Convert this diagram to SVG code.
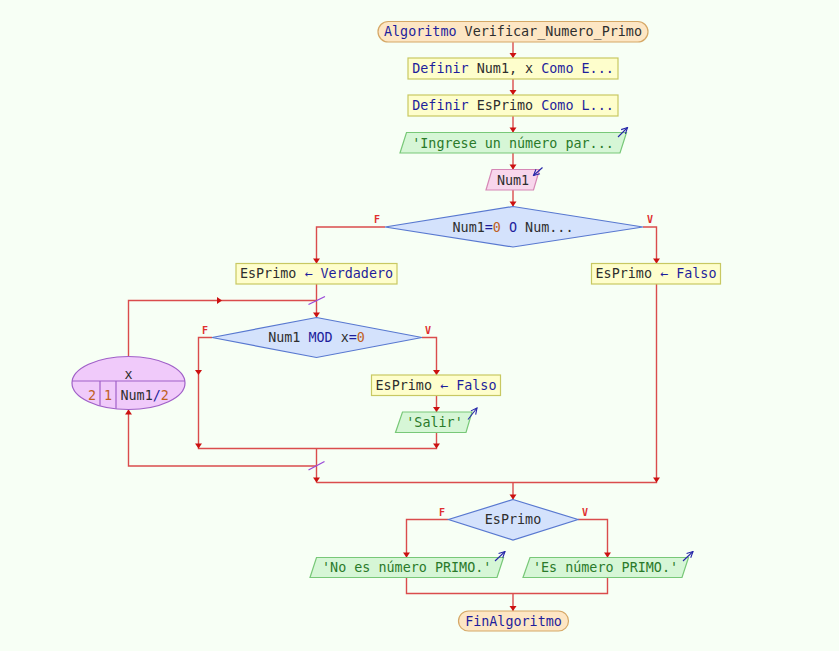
<svg xmlns="http://www.w3.org/2000/svg" xmlns:xlink="http://www.w3.org/1999/xlink" width="839" height="651" viewBox="0 0 839 651">
  <defs>
    <style>
      text { font-family: "DejaVu Sans Mono", "Liberation Mono", monospace; font-size: 13.4px; fill: #2e2e2e; }
      .kw { fill: #1e1e9c; }
      .num { fill: #c0601e; }
      .str { fill: #2a7a2a; }
      .lbl { font-family: "DejaVu Sans Mono", monospace; font-size: 10px; font-weight: bold; fill: #e03030; }
      .term { fill: #fde6c4; stroke: #d6a866; stroke-width: 1.2; }
      .proc { fill: #fefecc; stroke: #c8c862; stroke-width: 1.2; }
      .out { fill: #d6f6d6; stroke: #78c878; stroke-width: 1.2; }
      .inp { fill: #f8d6ec; stroke: #d688b6; stroke-width: 1.2; }
      .dec { fill: #d4e2fc; stroke: #5878d0; stroke-width: 1.2; }
      .loop { fill: #f0cafa; stroke: #a060c8; stroke-width: 1.2; }
      .loopdiv { fill: none; stroke: #a060c8; stroke-width: 1.2; }
      .wire { fill: none; stroke: #da4c4c; stroke-width: 1.4; }
      .io { fill: none; stroke: #2626a8; stroke-width: 1.1; }
      .tick { stroke: #9a4ad8; stroke-width: 1.3; }
      .ah { fill: #cc1111; }
    </style>
    <path id="ah" class="ah" d="M-3.5,-5 L3.5,-5 L0,0 Z"/>
    <marker id="ioh" viewBox="0 0 8 8" refX="7" refY="4" markerWidth="8" markerHeight="8" markerUnits="userSpaceOnUse" orient="auto">
      <path d="M1,1 L7,4 L1,7" fill="none" stroke="#2626a8" stroke-width="1.1"/>
    </marker>
  </defs>

  <rect width="839" height="651" fill="#f7fff5"/>

  <!-- connectors -->
  <g id="connectors">
    <path class="wire" d="M513,42 V58"/>
    <path class="wire" d="M513,79 V95"/>
    <path class="wire" d="M513,116 V132.5"/>
    <path class="wire" d="M513,153 V169.5"/>
    <path class="wire" d="M513,190 V206.5"/>
    <path class="wire" d="M385,227 H316.5 V263.5"/>
    <path class="wire" d="M643,227 H656.5 V263.5"/>
    <path class="wire" d="M316.5,284 V317.5"/>
    <path class="wire" d="M128.5,357 V300.5 H316.5"/>
    <path class="wire" d="M212,337.5 H198.5 V448.5 H436.5 V432"/>
    <path class="wire" d="M422,337.5 H436.5 V375"/>
    <path class="wire" d="M436.5,395 V412"/>
    <path class="wire" d="M316.5,448.5 V482.5"/>
    <path class="wire" d="M316.5,466 H128.5 V409.5"/>
    <path class="wire" d="M656.5,284 V482.5 H316.5"/>
    <path class="wire" d="M513,482.5 V499.5"/>
    <path class="wire" d="M448.5,519.5 H406.5 V557.5"/>
    <path class="wire" d="M578,519.5 H607.5 V557.5"/>
    <path class="wire" d="M406.5,577.5 V593.5 H607.5 V577.5"/>
    <path class="wire" d="M513,593.5 V611"/>

    <!-- arrowheads -->
    <use xlink:href="#ah" transform="translate(513,58)"/>
    <use xlink:href="#ah" transform="translate(513,95)"/>
    <use xlink:href="#ah" transform="translate(513,132.5)"/>
    <use xlink:href="#ah" transform="translate(513,169.5)"/>
    <use xlink:href="#ah" transform="translate(513,206.5)"/>
    <use xlink:href="#ah" transform="translate(316.5,263.5)"/>
    <use xlink:href="#ah" transform="translate(656.5,263.5)"/>
    <use xlink:href="#ah" transform="translate(316.5,317.5)"/>
    <use xlink:href="#ah" transform="translate(222,300.5) rotate(-90)"/>
    <use xlink:href="#ah" transform="translate(198.5,375)"/>
    <use xlink:href="#ah" transform="translate(198.5,448.5)"/>
    <use xlink:href="#ah" transform="translate(436.5,375)"/>
    <use xlink:href="#ah" transform="translate(436.5,412)"/>
    <use xlink:href="#ah" transform="translate(436.5,448.5)"/>
    <use xlink:href="#ah" transform="translate(128.5,409.5) rotate(180)"/>
    <use xlink:href="#ah" transform="translate(316.5,482.5)"/>
    <use xlink:href="#ah" transform="translate(656.5,482.5)"/>
    <use xlink:href="#ah" transform="translate(513,499.5)"/>
    <use xlink:href="#ah" transform="translate(406.5,557.5)"/>
    <use xlink:href="#ah" transform="translate(607.5,557.5)"/>
    <use xlink:href="#ah" transform="translate(513,611)"/>

    <!-- loop join ticks -->
    <line class="tick" x1="308.5" y1="304.5" x2="325" y2="296.5"/>
    <line class="tick" x1="308.5" y1="470" x2="324.5" y2="461.5"/>

    <!-- branch labels -->
    <text class="lbl" x="377" y="223.3" text-anchor="middle">F</text>
    <text class="lbl" x="650" y="223.3" text-anchor="middle">V</text>
    <text class="lbl" x="205" y="334" text-anchor="middle">F</text>
    <text class="lbl" x="428" y="334" text-anchor="middle">V</text>
    <text class="lbl" x="442" y="516" text-anchor="middle">F</text>
    <text class="lbl" x="585" y="516" text-anchor="middle">V</text>
  </g>

  <!-- nodes -->
  <g id="start">
    <rect class="term" x="378" y="21.5" width="270" height="20.5" rx="10.25"/>
    <text x="513" y="36.3" text-anchor="middle"><tspan class="kw">Algoritmo</tspan> Verificar_Numero_Primo</text>
  </g>

  <g id="def1">
    <rect class="proc" x="408" y="58" width="210" height="21"/>
    <text x="513" y="73" text-anchor="middle"><tspan class="kw">Definir</tspan> Num1, x <tspan class="kw">Como E...</tspan></text>
  </g>

  <g id="def2">
    <rect class="proc" x="408" y="95" width="210" height="21"/>
    <text x="513" y="110" text-anchor="middle"><tspan class="kw">Definir</tspan> EsPrimo <tspan class="kw">Como L...</tspan></text>
  </g>

  <g id="prompt">
    <polygon class="out" points="406.5,132.5 626.5,132.5 620,153 400,153"/>
    <text class="str" x="513" y="147.5" text-anchor="middle">'Ingrese un número par...</text>
    <line class="io" x1="618" y1="137" x2="627.5" y2="127.5" marker-end="url(#ioh)"/>
  </g>

  <g id="read">
    <polygon class="inp" points="492,169.5 539.5,169.5 533.5,190 486,190"/>
    <text x="513" y="184.5" text-anchor="middle">Num1</text>
    <line class="io" x1="542.5" y1="167.5" x2="533.5" y2="175.5" marker-end="url(#ioh)"/>
  </g>

  <g id="cond1">
    <polygon class="dec" points="513,206.5 643,227 513,247 385,227"/>
    <text x="513" y="231.7" text-anchor="middle">Num1<tspan class="kw">=</tspan><tspan class="num">0</tspan> <tspan class="kw">O</tspan> Num...</text>
  </g>

  <g id="setTrue">
    <rect class="proc" x="236" y="263.5" width="161" height="20.5"/>
    <text x="316.5" y="278.3" text-anchor="middle">EsPrimo <tspan class="kw">← Verdadero</tspan></text>
  </g>

  <g id="setFalse">
    <rect class="proc" x="591.5" y="263.5" width="129" height="20.5"/>
    <text x="656" y="278.3" text-anchor="middle">EsPrimo <tspan class="kw">← Falso</tspan></text>
  </g>

  <g id="forLoop">
    <ellipse class="loop" cx="128.5" cy="383" rx="56.5" ry="26.5"/>
    <path class="loopdiv" d="M72.2,381 H184.8 M100,381 V405.8 M116,381 V408.7"/>
    <text x="128.5" y="378.5" text-anchor="middle">x</text>
    <text class="num" x="92" y="399.5" text-anchor="middle">2</text>
    <text class="num" x="108" y="399.5" text-anchor="middle">1</text>
    <text x="120.5" y="399.5">Num1<tspan class="kw">/</tspan><tspan class="num">2</tspan></text>
  </g>

  <g id="cond2">
    <polygon class="dec" points="316.5,317.5 422,337.5 316.5,357.5 212,337.5"/>
    <text x="316.5" y="342.3" text-anchor="middle">Num1 <tspan class="kw">MOD</tspan> x<tspan class="kw">=</tspan><tspan class="num">0</tspan></text>
  </g>

  <g id="setFalse2">
    <rect class="proc" x="371.5" y="375" width="129" height="20.5"/>
    <text x="436" y="389.8" text-anchor="middle">EsPrimo <tspan class="kw">← Falso</tspan></text>
  </g>

  <g id="exitLoop">
    <polygon class="out" points="402.5,412 472,412 466,432.5 395.5,432.5"/>
    <text class="str" x="434.5" y="427" text-anchor="middle">'Salir'</text>
    <line class="io" x1="468" y1="419.5" x2="477" y2="408" marker-end="url(#ioh)"/>
  </g>

  <g id="cond3">
    <polygon class="dec" points="513,499.5 578,519.5 513,540 448.5,519.5"/>
    <text x="513" y="524.3" text-anchor="middle">EsPrimo</text>
  </g>

  <g id="msgNo">
    <polygon class="out" points="316.5,557.5 503.5,557.5 497,577.5 310,577.5"/>
    <text class="str" x="406.7" y="572.2" text-anchor="middle">'No es número PRIMO.'</text>
    <line class="io" x1="495" y1="561" x2="505" y2="551.5" marker-end="url(#ioh)"/>
  </g>

  <g id="msgYes">
    <polygon class="out" points="530,557.5 688.5,557.5 682,577.5 523,577.5"/>
    <text class="str" x="605.5" y="572.2" text-anchor="middle">'Es número PRIMO.'</text>
    <line class="io" x1="683" y1="561" x2="693" y2="551.5" marker-end="url(#ioh)"/>
  </g>

  <g id="end">
    <rect class="term" x="458.5" y="611" width="110" height="20" rx="10"/>
    <text class="kw" x="513.5" y="625.6" text-anchor="middle">FinAlgoritmo</text>
  </g>
</svg>
